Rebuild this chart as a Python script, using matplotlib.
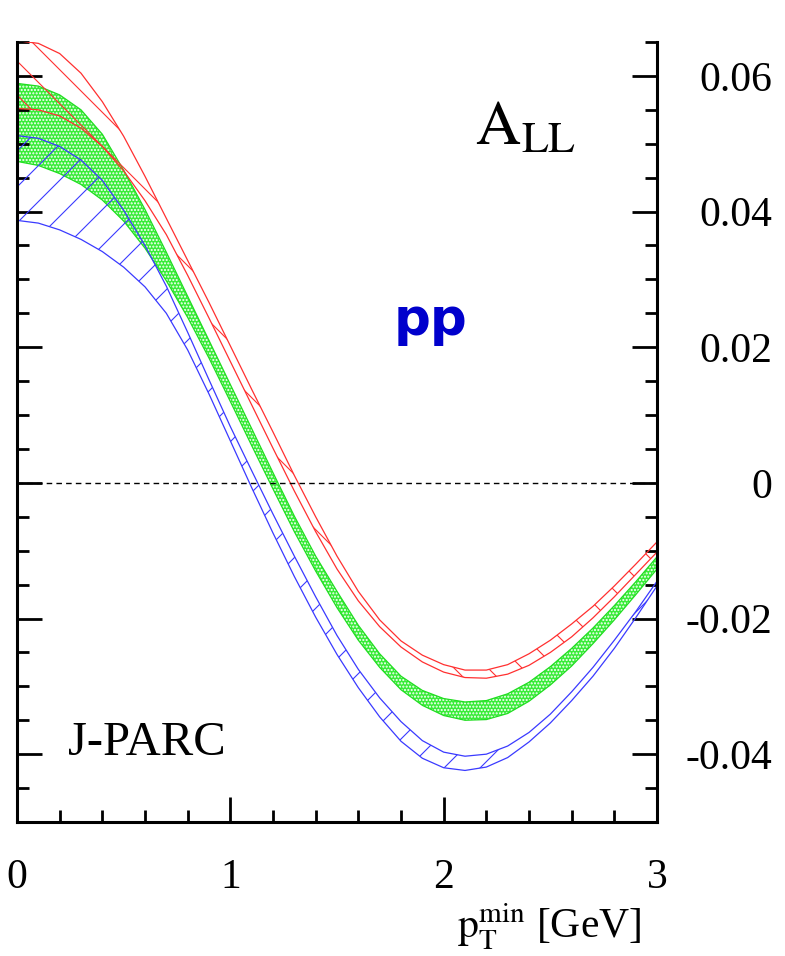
import numpy as np
import matplotlib
matplotlib.use("Agg")
import matplotlib.pyplot as plt
from matplotlib.ticker import MultipleLocator, FuncFormatter
from matplotlib.collections import LineCollection

# p_T^min grid [GeV]
pt_min = [0.0, 0.1, 0.2, 0.3, 0.4, 0.5, 0.6, 0.7, 0.8, 0.9, 1.0,
          1.1, 1.2, 1.3, 1.4, 1.5, 1.6, 1.7, 1.8, 1.9, 2.0,
          2.1, 2.2, 2.3, 2.4, 2.5, 2.6, 2.7, 2.8, 2.9, 3.0]

# red band (upper / lower edge)
red_hi = [0.0652, 0.0648, 0.0633, 0.0604, 0.0562, 0.0511, 0.0452, 0.0390, 0.0328, 0.0266, 0.0202,
          0.0138, 0.0075, 0.0011, -0.0050, -0.0108, -0.0160, -0.0202, -0.0233, -0.0254, -0.0268,
          -0.0276, -0.0276, -0.0268, -0.0252, -0.0232, -0.0208, -0.0182, -0.0152, -0.0120, -0.0087]
red_lo = [0.0552, 0.0550, 0.0541, 0.0523, 0.0496, 0.0460, 0.0416, 0.0366, 0.0306, 0.0243, 0.0179,
          0.0115, 0.0051, -0.0012, -0.0072, -0.0127, -0.0174, -0.0212, -0.0242, -0.0264, -0.0279,
          -0.0287, -0.0288, -0.0282, -0.0269, -0.0250, -0.0227, -0.0199, -0.0168, -0.0135, -0.0102]

# green band
green_hi = [0.0589, 0.0585, 0.0572, 0.0550, 0.0514, 0.0461, 0.0403, 0.0340, 0.0275, 0.0210, 0.0145,
            0.0080, 0.0015, -0.0049, -0.0108, -0.0160, -0.0210, -0.0252, -0.0285, -0.0306, -0.0318,
            -0.0323, -0.0321, -0.0311, -0.0294, -0.0271, -0.0244, -0.0214, -0.0181, -0.0146, -0.0109]
green_lo = [0.0474, 0.0468, 0.0456, 0.0440, 0.0417, 0.0386, 0.0346, 0.0298, 0.0244, 0.0184, 0.0120,
            0.0055, -0.0009, -0.0072, -0.0130, -0.0184, -0.0232, -0.0272, -0.0305, -0.0328, -0.0343,
            -0.0350, -0.0349, -0.0340, -0.0322, -0.0298, -0.0270, -0.0237, -0.0202, -0.0165, -0.0127]

# blue band
blue_hi = [0.0512, 0.0508, 0.0496, 0.0476, 0.0446, 0.0402, 0.0350, 0.0290, 0.0222, 0.0152, 0.0083,
           0.0018, -0.0046, -0.0108, -0.0168, -0.0225, -0.0275, -0.0317, -0.0352, -0.0380, -0.0397,
           -0.0403, -0.0400, -0.0388, -0.0368, -0.0341, -0.0308, -0.0272, -0.0232, -0.0190, -0.0145]
blue_lo = [0.0387, 0.0383, 0.0373, 0.0359, 0.0341, 0.0318, 0.0289, 0.0250, 0.0196, 0.0131, 0.0062,
           -0.0007, -0.0074, -0.0138, -0.0198, -0.0253, -0.0302, -0.0345, -0.0381, -0.0406, -0.0420,
           -0.0424, -0.0419, -0.0405, -0.0382, -0.0354, -0.0321, -0.0285, -0.0244, -0.0199, -0.0152]

RED = '#ff3030'
GREEN = '#22dd22'
BLUE = '#3a3aff'

plt.rcParams['font.family'] = ['Liberation Serif', 'DejaVu Serif']
plt.rcParams['mathtext.fontset'] = 'stix'
plt.rcParams['hatch.linewidth'] = 1.0

fig = plt.figure(figsize=(7.85, 9.56), dpi=100)
ax = fig.add_axes([17 / 785, 1 - 822 / 956, 640 / 785, 780 / 956])
ax.set_xlim(0, 3)
ax.set_ylim(-0.05, 0.065)


def hatch_band(x, lo, hi, color, sign, spacing, phase):
    # sparse 45 degree hatch lines, clipped to the band
    band = ax.fill_between(x, lo, hi, facecolor='none', edgecolor='none', lw=0)
    bb = ax.get_window_extent()
    x0, x1 = ax.get_xlim()
    y0, y1 = ax.get_ylim()
    ppy = bb.height / (y1 - y0)
    segs = []
    for k in range(-60, 60):
        c = phase + k * spacing
        segs.append([(x0, y0 + c / ppy), (x1, y0 + (c + sign * bb.width) / ppy)])
    lc = LineCollection(segs, colors=color, linewidths=0.8)
    ax.add_collection(lc, autolim=False)
    lc.set_clip_path(band.get_paths()[0], ax.transData)


# green band: dotted fill
ax.fill_between(pt_min, green_lo, green_hi, facecolor='#38ec38', edgecolor='white',
                hatch='.....', lw=0)
ax.plot(pt_min, green_hi, color=GREEN, lw=0.9)
ax.plot(pt_min, green_lo, color=GREEN, lw=0.9)

# red band
hatch_band(pt_min, red_lo, red_hi, RED, -1, 34, 761)
ax.plot(pt_min, red_hi, color=RED, lw=0.9)
ax.plot(pt_min, red_lo, color=RED, lw=0.9)

# blue band
hatch_band(pt_min, blue_lo, blue_hi, BLUE, 1, 36, 599)
ax.plot(pt_min, blue_hi, color=BLUE, lw=0.9)
ax.plot(pt_min, blue_lo, color=BLUE, lw=0.9)

ax.axhline(0, color='black', lw=1.0, ls=(0, (4, 3)))

# axes frame and ticks
ax.spines['top'].set_visible(False)
for s in ['left', 'right', 'bottom']:
    ax.spines[s].set_linewidth(2.2)

ax.xaxis.set_major_locator(MultipleLocator(1))
ax.xaxis.set_minor_locator(MultipleLocator(0.2))
ax.yaxis.set_major_locator(MultipleLocator(0.02))
ax.yaxis.set_minor_locator(MultipleLocator(0.005))
ax.xaxis.set_major_formatter(FuncFormatter(lambda v, _: f'{v:g}'))
ax.yaxis.set_major_formatter(FuncFormatter(lambda v, _: '0' if abs(v) < 1e-9 else f'{v:.2f}'))

ax.tick_params(which='both', direction='in', left=True, right=True, top=False, bottom=True,
               labelleft=False, labelright=True, width=2)
ax.tick_params(which='major', length=18)
ax.tick_params(which='minor', length=8.5)
ax.tick_params(axis='y', which='major', pad=83, labelsize=30)
ax.tick_params(axis='x', which='major', pad=26, labelsize=30)
plt.setp(ax.get_yticklabels(), ha='right')

ax.text(0.716, 0.868, r'$\mathrm{A_{LL}}$', transform=ax.transAxes, fontsize=45,
        ha='left', va='baseline')
ax.text(0.588, 0.625, 'pp', transform=ax.transAxes, fontsize=37, fontweight='bold',
        color='#0000cc', family='DejaVu Sans', ha='left', va='baseline')
ax.text(0.0797, 0.086, 'J-PARC', transform=ax.transAxes, fontsize=35,
        ha='left', va='baseline')
ax.text(0.975, -0.150, r'$\mathrm{p}_{\mathrm{T}}^{\mathrm{min}}$ [GeV]', transform=ax.transAxes,
        fontsize=30, ha='right', va='baseline')

fig.savefig('out.png', dpi=100)
